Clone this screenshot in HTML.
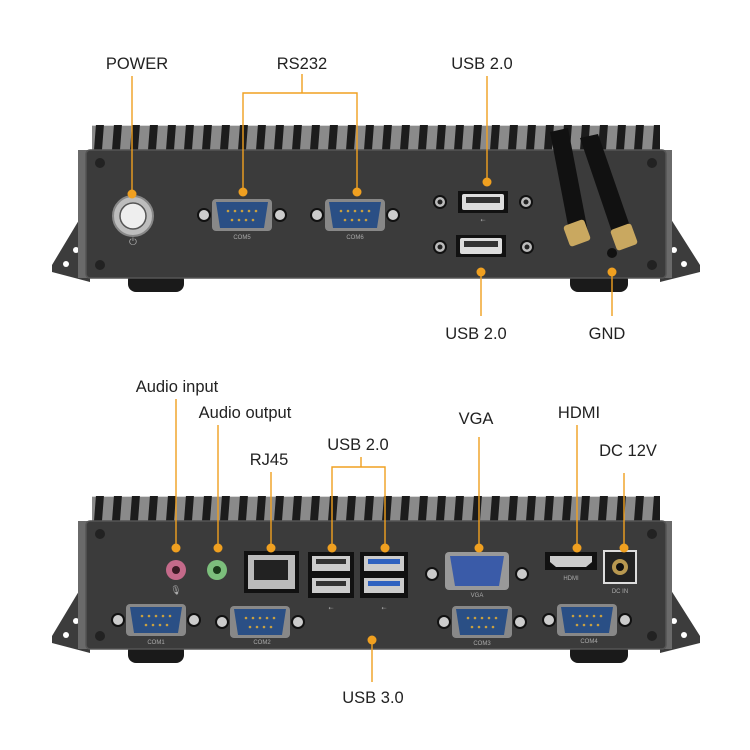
<!DOCTYPE html>
<html><head><meta charset="utf-8"><style>
html,body{margin:0;padding:0;background:#fff;}
svg{display:block;}
text{font-family:"Liberation Sans",sans-serif;}
.lb{font-size:16.5px;fill:#222;}
.sm{font-size:6px;fill:#aaa;}
.ln{stroke:#f0a020;stroke-width:1.4;fill:none;}
.dot{fill:#f0a020;}
</style></head><body>
<svg width="750" height="750" viewBox="0 0 750 750" xmlns="http://www.w3.org/2000/svg">
<defs>
  <pattern id="fins" x="92" y="0" width="18" height="30" patternUnits="userSpaceOnUse">
    <rect width="18" height="30" fill="#8a8a8a"/>
    <rect x="0" y="0" width="18" height="6" fill="#d8d8d8"/>
    <polygon points="4,4 12,4 10,30 2,30" fill="#1c1c1c"/>
  </pattern>
  <g id="chassis">
    <!-- flanges -->
    <polygon points="88,205 52,265 52,272 90,282 90,200" fill="#3c3c3c"/>
    <polygon points="662,205 700,265 700,272 660,282 660,200" fill="#3c3c3c"/>
    <circle cx="66" cy="264" r="3" fill="#fff"/><circle cx="76" cy="250" r="3" fill="#fff"/>
    <circle cx="684" cy="264" r="3" fill="#fff"/><circle cx="674" cy="250" r="3" fill="#fff"/>
    <!-- side fins -->
    <rect x="78" y="150" width="12" height="128" fill="#6a6a6a"/>
    <rect x="660" y="150" width="12" height="128" fill="#6a6a6a"/>
    <!-- feet -->
    <rect x="128" y="272" width="56" height="20" rx="8" fill="#1a1a1a"/>
    <rect x="570" y="272" width="58" height="20" rx="8" fill="#1a1a1a"/>
    <!-- top fins -->
    <rect x="92" y="125" width="568" height="27" fill="url(#fins)"/>
    <!-- panel -->
    <rect x="86" y="150" width="580" height="128" rx="4" fill="#3b3b3b" stroke="#555" stroke-width="1.5"/>
    <circle cx="100" cy="163" r="5" fill="#222"/><circle cx="100" cy="265" r="5" fill="#222"/>
    <circle cx="652" cy="163" r="5" fill="#222"/><circle cx="652" cy="265" r="5" fill="#222"/>
  </g>
  <g id="db9">
    <circle cx="-38" cy="0" r="6" fill="#ccc" stroke="#111" stroke-width="2"/>
    <circle cx="38" cy="0" r="6" fill="#ccc" stroke="#111" stroke-width="2"/>
    <rect x="-30" y="-16" width="60" height="32" rx="4" fill="#888"/>
    <polygon points="-26,-13 26,-13 22,13 -22,13" fill="#2a4f85"/>
    <g fill="#c9a040"><circle cx="-14" cy="-4" r="1.3"/><circle cx="-7" cy="-4" r="1.3"/><circle cx="0" cy="-4" r="1.3"/><circle cx="7" cy="-4" r="1.3"/><circle cx="14" cy="-4" r="1.3"/>
    <circle cx="-10" cy="5" r="1.3"/><circle cx="-3" cy="5" r="1.3"/><circle cx="4" cy="5" r="1.3"/><circle cx="11" cy="5" r="1.3"/></g>
  </g>
  <g id="usbA">
    <rect x="-25" y="-11" width="50" height="22" fill="#111"/>
    <rect x="-21" y="-8" width="42" height="16" rx="2" fill="#ddd"/>
    <rect x="-17" y="-5" width="34" height="6" fill="#333"/>
  </g>
  <g id="jack"><circle r="7" fill="#111"/><circle r="5" fill="#bbb"/><circle r="2.5" fill="#222"/></g>
</defs>

<!-- TOP DEVICE -->
<use href="#chassis"/>
<circle cx="133" cy="216" r="20" fill="#bdbdbd" stroke="#888" stroke-width="2"/>
<circle cx="133" cy="216" r="13" fill="#eee" stroke="#555" stroke-width="1.5"/>
<text x="133" y="245" class="sm" text-anchor="middle" style="font-size:10px">⏻</text>
<use href="#db9" x="242" y="215"/>
<use href="#db9" x="355" y="215"/>
<text x="242" y="239" class="sm" text-anchor="middle">COM5</text>
<text x="355" y="239" class="sm" text-anchor="middle">COM6</text>
<use href="#usbA" x="483" y="202"/>
<use href="#usbA" x="481" y="246"/>
<use href="#jack" x="440" y="202"/><use href="#jack" x="526" y="202"/>
<use href="#jack" x="440" y="247"/><use href="#jack" x="527" y="247"/>
<text x="483" y="222" class="sm" text-anchor="middle">⇠</text>
<circle cx="612" cy="253" r="5" fill="#111"/>
<!-- antennas -->
<polygon points="550,132 568,128 588,232 570,236" fill="#111"/>
<polygon points="580,138 598,134 632,232 614,238" fill="#111"/>
<rect x="566" y="222" width="22" height="22" rx="3" fill="#c9a860" transform="rotate(-20 577 233)"/>
<rect x="613" y="226" width="22" height="22" rx="3" fill="#c9a860" transform="rotate(-20 624 237)"/>

<!-- top labels -->
<text x="137" y="69" class="lb" text-anchor="middle">POWER</text>
<path class="ln" d="M132,76 V194"/><circle class="dot" cx="132" cy="194" r="4.5"/>
<text x="302" y="69" class="lb" text-anchor="middle">RS232</text>
<path class="ln" d="M302,74 V93 M243,190 V93 H357 V190"/>
<circle class="dot" cx="243" cy="192" r="4.5"/><circle class="dot" cx="357" cy="192" r="4.5"/>
<text x="482" y="69" class="lb" text-anchor="middle">USB 2.0</text>
<path class="ln" d="M487,76 V182"/><circle class="dot" cx="487" cy="182" r="4.5"/>
<path class="ln" d="M481,272 V316"/><circle class="dot" cx="481" cy="272" r="4.5"/>
<text x="476" y="339" class="lb" text-anchor="middle">USB 2.0</text>
<path class="ln" d="M612,272 V316"/><circle class="dot" cx="612" cy="272" r="4.5"/>
<text x="607" y="339" class="lb" text-anchor="middle">GND</text>

<!-- BOTTOM DEVICE -->
<use href="#chassis" y="371"/>
<circle cx="176" cy="570" r="10" fill="#c46a8a"/><circle cx="176" cy="570" r="4" fill="#3a1a24"/>
<circle cx="217" cy="570" r="10" fill="#7cbf7c"/><circle cx="217" cy="570" r="4" fill="#1a3a1a"/>
<text x="176" y="593" class="sm" text-anchor="middle" style="font-size:9px">🎙</text>
<rect x="244" y="551" width="55" height="42" fill="#111"/>
<rect x="248" y="555" width="47" height="34" fill="#bbb"/>
<rect x="254" y="560" width="34" height="20" fill="#222"/>
<rect x="308" y="552" width="46" height="46" fill="#111"/>
<rect x="312" y="556" width="38" height="15" fill="#ccc"/><rect x="312" y="578" width="38" height="15" fill="#ccc"/>
<rect x="316" y="559" width="30" height="5" fill="#333"/><rect x="316" y="581" width="30" height="5" fill="#333"/>
<rect x="360" y="552" width="48" height="46" fill="#111"/>
<rect x="364" y="556" width="40" height="15" fill="#ccc"/><rect x="364" y="578" width="40" height="15" fill="#ccc"/>
<rect x="368" y="559" width="32" height="5" fill="#2f62c0"/><rect x="368" y="581" width="32" height="5" fill="#2f62c0"/>
<text x="331" y="610" class="sm" text-anchor="middle">⇠</text>
<text x="384" y="610" class="sm" text-anchor="middle">⇠</text>
<circle cx="432" cy="574" r="6" fill="#ccc" stroke="#111" stroke-width="2"/>
<circle cx="522" cy="574" r="6" fill="#ccc" stroke="#111" stroke-width="2"/>
<rect x="445" y="552" width="64" height="38" rx="4" fill="#999"/>
<polygon points="450,556 504,556 499,586 455,586" fill="#3a5ba8"/>
<text x="477" y="597" class="sm" text-anchor="middle">VGA</text>
<rect x="545" y="552" width="52" height="18" fill="#111"/>
<polygon points="550,556 592,556 592,562 586,567 556,567 550,562" fill="#ccc"/>
<text x="571" y="580" class="sm" text-anchor="middle">HDMI</text>
<rect x="603" y="550" width="34" height="34" fill="#ddd"/><rect x="605" y="552" width="30" height="30" fill="#222"/>
<circle cx="620" cy="567" r="8" fill="#b89850"/><circle cx="620" cy="567" r="4" fill="#111"/>
<text x="620" y="593" class="sm" text-anchor="middle">DC IN</text>
<use href="#db9" x="156" y="620"/><use href="#db9" x="260" y="622"/>
<use href="#db9" x="482" y="622"/><use href="#db9" x="587" y="620"/>
<text x="156" y="644" class="sm" text-anchor="middle">COM1</text>
<text x="262" y="644" class="sm" text-anchor="middle">COM2</text>
<text x="482" y="645" class="sm" text-anchor="middle">COM3</text>
<text x="589" y="643" class="sm" text-anchor="middle">COM4</text>

<!-- bottom labels -->
<text x="177" y="392" class="lb" text-anchor="middle">Audio input</text>
<path class="ln" d="M176,399 V548"/><circle class="dot" cx="176" cy="548" r="4.5"/>
<text x="245" y="418" class="lb" text-anchor="middle">Audio output</text>
<path class="ln" d="M218,425 V548"/><circle class="dot" cx="218" cy="548" r="4.5"/>
<text x="269" y="465" class="lb" text-anchor="middle">RJ45</text>
<path class="ln" d="M271,472 V548"/><circle class="dot" cx="271" cy="548" r="4.5"/>
<text x="358" y="450" class="lb" text-anchor="middle">USB 2.0</text>
<path class="ln" d="M361,457 V467 M332,548 V467 H385 V548"/>
<circle class="dot" cx="332" cy="548" r="4.5"/><circle class="dot" cx="385" cy="548" r="4.5"/>
<text x="476" y="424" class="lb" text-anchor="middle">VGA</text>
<path class="ln" d="M479,437 V548"/><circle class="dot" cx="479" cy="548" r="4.5"/>
<text x="579" y="418" class="lb" text-anchor="middle">HDMI</text>
<path class="ln" d="M577,425 V548"/><circle class="dot" cx="577" cy="548" r="4.5"/>
<text x="628" y="456" class="lb" text-anchor="middle">DC 12V</text>
<path class="ln" d="M624,473 V548"/><circle class="dot" cx="624" cy="548" r="4.5"/>
<path class="ln" d="M372,640 V682"/><circle class="dot" cx="372" cy="640" r="4.5"/>
<text x="373" y="703" class="lb" text-anchor="middle">USB 3.0</text>
</svg>
</body></html>
